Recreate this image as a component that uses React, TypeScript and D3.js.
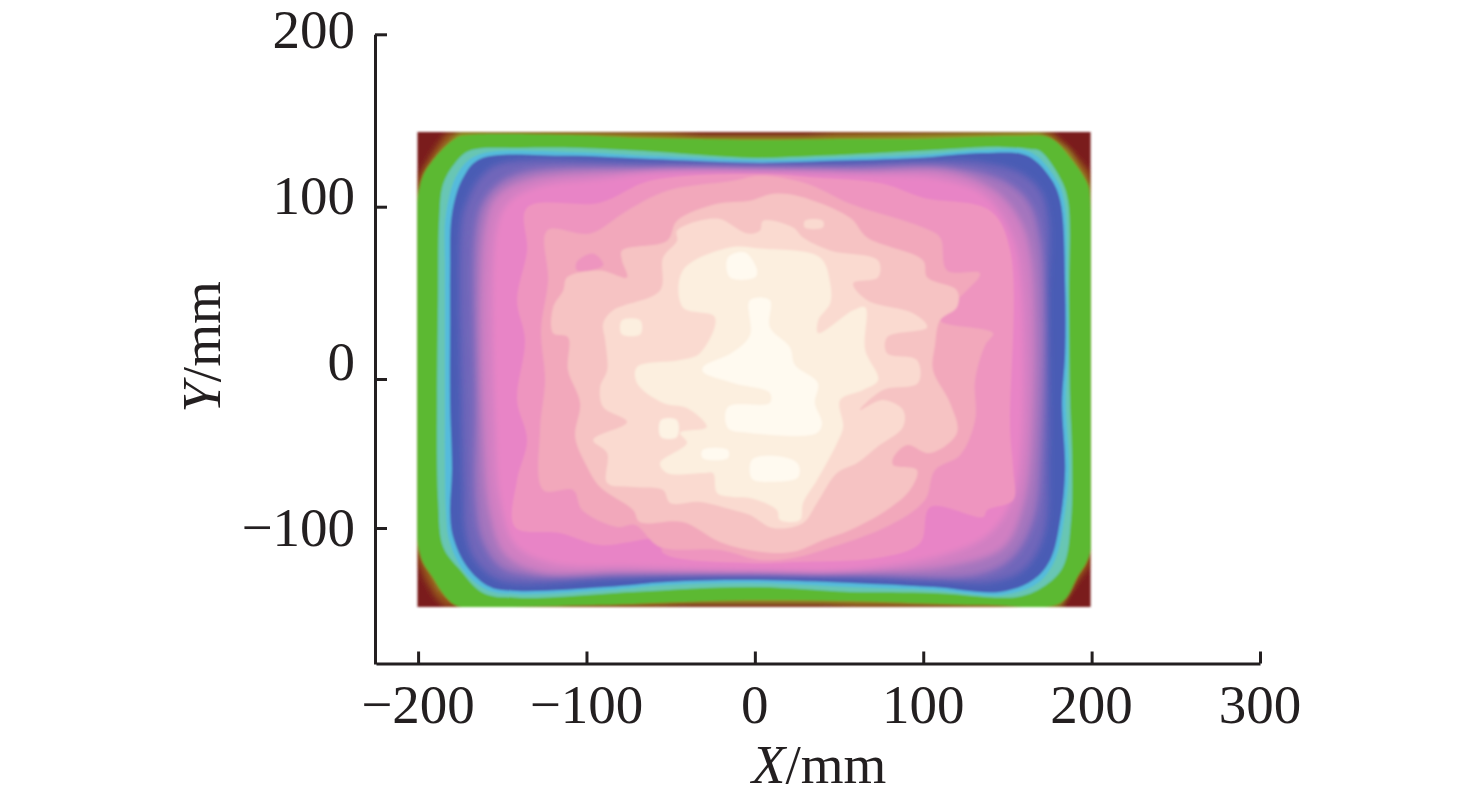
import * as d3 from "d3";
import { useEffect, useRef } from "react";

type Pt = [number, number];

const xTicks = [-200, -100, 0, 100, 200, 300];
const yTicks = [200, 100, 0, -100];

// extent of the measured field (mm)
const fieldX = [-200.5, 199.5];
const fieldY = [143.4, -153];

// iso-level outlines, outermost first (x mm, y mm)
const levelBrown: Pt[] = [[-200.5,116.2],[-194.5,126.6],[-189,135.3],[-183,143.4],[-50,143.4],[-30,141],[30,141],[50,143.4],[176.5,143.4],[185.4,134.7],[192,127.7],[199.4,119.6],[199.4,-124.8],[192,-134.9],[186,-144.9],[180,-153],[60,-153],[40,-150.5],[-40,-150.5],[-60,-153],[-183.9,-153],[-189.9,-146.3],[-195.8,-134.9],[-200.5,-121.4]];
const levelOlive: Pt[] = [[-200.5,105],[-194.5,120.8],[-186,132.4],[-175.6,143.4],[-92,142],[-32.6,139.9],[26.8,139.9],[86.4,141],[169.5,143.4],[186,132.4],[199.4,111],[199.4,-111.3],[181.4,-153],[74.3,-150],[-62.2,-150],[-169,-153],[-187,-141.6],[-200.5,-111.3]];
const levelGreen: Pt[] = [[-199.2,111],[-191.5,126.6],[-177.3,139.9],[-169.5,141.6],[-110,141.6],[-68.3,139.9],[-32.6,139.3],[0,138.7],[56.6,139.3],[96.4,139.3],[155.9,141],[175.5,139.9],[187.4,128.3],[197.5,113.3],[199.2,103.5],[199.2,-116],[191.5,-132.9],[181.4,-150.3],[135.6,-151.6],[56.6,-149],[0,-148.3],[-42.8,-149.6],[-92.2,-151.6],[-163.5,-153],[-178.4,-151.6],[-191.5,-132.9],[-199.2,-116]];
const levelTeal: Pt[] = [[-169.5,132.4],[-139.7,134.1],[-104,134.1],[-68.3,132.4],[-32.6,130],[0,128.3],[38.7,129.5],[74.3,131.2],[115.9,133.5],[145.6,134.7],[163.4,133.5],[169.3,132.4],[181.2,116.8],[186,103.5],[186.6,45.7],[187.2,-14.1],[188.3,-47.6],[187.8,-94.6],[183,-126.1],[171.1,-139.6],[155.7,-146.3],[105.8,-143.6],[56.6,-142.9],[-2.9,-139.6],[-72.3,-142.9],[-141.2,-146.9],[-161.4,-143.6],[-175,-128.2],[-185.1,-112.7],[-188.1,-81.2],[-188.7,-14.1],[-188.1,45.7],[-187.5,91.9],[-185.1,113.3],[-178,125.4]];
const levelCyan: Pt[] = [[-183.4,95.9],[-176.3,119.6],[-164.4,130],[-111.5,131.8],[-62.2,129.5],[3,127.2],[46.5,128.3],[96.4,130],[135.6,132.9],[163.5,131.8],[178.4,116.8],[183.7,103.5],[185.3,53.2],[185.9,15],[184.7,-16.1],[186.5,-61.1],[183.5,-94.6],[178.2,-121.4],[168.1,-136.9],[147.3,-144.9],[105.8,-141.6],[56.6,-139.6],[-2.9,-136.9],[-52.1,-138.2],[-87.7,-141.6],[-141.2,-144.3],[-159,-141.6],[-173.2,-128.2],[-181.5,-108],[-183.4,-89.9],[-184,-61.1],[-184,-16.1],[-184,34.1],[-184,63]];
const levelBlue: Pt[] = [[-179.9,95.9],[-173.3,116.8],[-163.2,127.7],[-111.5,129.5],[-62.2,127.7],[3,125.4],[46.5,126.6],[96.4,128.3],[135.6,131.2],[161.8,129.5],[175.4,116.8],[181.4,103.5],[184.3,53.2],[184.3,15],[182.5,-16.1],[184.3,-61.1],[181.4,-94.6],[175.4,-121.4],[165.2,-134.9],[145.6,-142.9],[105.8,-139.6],[56.6,-136.9],[-2.9,-134.9],[-52.1,-136.2],[-87.7,-139.6],[-141.2,-142.3],[-157.2,-139.6],[-170.9,-126.1],[-179.2,-106],[-181,-89.9],[-179.9,-61.1],[-181,-16.1],[-181,34.1],[-181,63]];
const levelIndigo: Pt[] = [[-174,91.9],[-170,105.2],[-163.2,116.8],[-151.3,124.8],[-62.2,125.4],[3,123.7],[56.6,124.3],[115.9,126.6],[135.6,125.4],[157.6,119.6],[169.5,109.2],[174.3,91.9],[173.7,45.7],[174.3,-47.6],[171.3,-106],[159.4,-128.2],[139.8,-136.2],[105.8,-134.9],[56.6,-132.9],[-2.9,-131.5],[-84.2,-133.5],[-141.2,-136.9],[-155.4,-132.9],[-167.3,-119.4],[-172,-101.3],[-173,-72.5],[-174,-16.1]];
const levelViolet: Pt[] = [[-166,86.1],[-161,103.5],[-150,115],[-133.5,121],[-62.2,122.8],[3,122.8],[56.6,122.8],[115.9,122.8],[145.6,116],[162,103.5],[169.5,80.3],[169.9,-47.6],[165.4,-94.6],[153,-120],[133.7,-131],[56.6,-131],[-2.9,-130],[-80.1,-131],[-133.6,-132],[-151.4,-126],[-162,-108],[-166,-81.2],[-166,-16.1]];
const levelOrchid: Pt[] = [[-160.2,89],[-153,106.4],[-133.5,116.2],[-62.2,120.8],[3,120.8],[62.4,120.2],[115.9,120.2],[142.7,109.2],[157.6,91.9],[164.2,68.8],[164.2,-47.6],[158.8,-87.9],[147.5,-113.3],[115.9,-125.5],[56.6,-129.5],[-2.9,-129.5],[-80.1,-129.5],[-127.6,-129.5],[-148.4,-118],[-157.3,-91.3],[-161.4,-34.2]];
const levelPink: Pt[] = [[-153.1,89],[-145.3,103.5],[-127.5,112.1],[-91.9,116.2],[-62.2,119.6],[3,120.2],[62.4,118.5],[110,116.2],[136.8,106.4],[152.9,83.2],[158.3,57.2],[158.3,-47.6],[152.9,-81.2],[138.5,-104.7],[112.9,-118],[56.6,-128.2],[-2.9,-128.2],[-68.3,-126.1],[-121.8,-123.5],[-142.5,-111.3],[-151.4,-81.2],[-154.4,-34.2]];
const levelRose1: Pt[] = [[-135.3,99.4],[-91.9,102.3],[-62.2,115],[3,119],[36.9,116.8],[76.1,113.3],[99.9,105.2],[139.7,97.7],[151.6,74.6],[151.6,-34.2],[153.4,-61.1],[153.4,-81.2],[138,-87.9],[135.6,-92.6],[104.2,-85.9],[98.2,-110],[76.3,-119.4],[22.7,-122.8],[-2.9,-123.5],[-54.5,-116.8],[-56.3,-108],[-91.9,-111.4],[-115.7,-103.3],[-142.5,-99.3],[-141.2,-67.7],[-135.3,-40.9],[-141.2,-14.1],[-136.5,22.5],[-141.2,45.7],[-135.3,74.6]];
const levelRose2: Pt[] = [[-123.4,86.1],[-97.9,84.4],[-75.9,97.7],[-52.1,109.2],[-12.9,115],[3,117.9],[31,113.3],[56.6,101.7],[99.9,87.9],[110,82.1],[114.1,63],[133.7,61.3],[120,45.7],[110,34.1],[141.5,26.6],[136.8,19.7],[130.8,-0.7],[130.8,-27.5],[121.9,-51],[107,-61.1],[101,-81.2],[80.3,-98],[40.6,-114.7],[22.7,-120.1],[3,-121.4],[-20.7,-114.7],[-56.3,-112.7],[-71.1,-98],[-81.8,-99.3],[-102.6,-87.9],[-107.9,-74.5],[-125.7,-74.5],[-127.6,-34.2],[-124.6,-0.7],[-127,28.3],[-122.8,57.2]];
const spotRose1: Pt[] = [[-105.7,68],[-96,72.8],[-90,66],[-105.7,63]];
const levelBlush: Pt[] = [[-119.8,41.6],[-113.8,51.4],[-111.5,59],[-91.9,63],[-75.9,59],[-78.9,68.8],[-78.9,74.6],[-52.1,80.3],[-46.2,91.9],[-22.4,101.7],[-2.9,103.5],[10.8,107.5],[25,106.4],[56.6,93.6],[66.7,82.1],[99.9,68.8],[102.3,59],[120,51.4],[120,41.6],[110,34.1],[107,19.7],[105.8,5.2],[115.9,-16.1],[120,-36.2],[104,-49.7],[90.4,-44.3],[82.1,-53],[82.1,-57.7],[96.3,-61.1],[92.1,-74.5],[78.4,-87.9],[56.6,-101.3],[40.6,-108],[22.7,-116],[3,-116],[-20.7,-109.4],[-42.8,-96],[-68.3,-96],[-72.3,-87.9],[-91.9,-72.5],[-99.6,-59],[-106.7,-38.9],[-103.8,-16.1],[-111,5.2],[-111,24.3],[-119.8,26.6]];
const levelPeach: Pt[] = [[-90.1,32.4],[-84.2,39.9],[-56.3,51.4],[-54.5,70.5],[-46.2,80.3],[-46.2,86.1],[-22.4,93.1],[-4.6,84.4],[3,86.1],[4.9,91.9],[22.7,87.9],[28.6,82.1],[44.7,74.6],[73.2,68.8],[73.2,59],[58.4,55.5],[66.7,45.7],[94,38.1],[102.3,30.1],[78.5,24.3],[78.5,15],[96.3,11],[96.9,-2.7],[76.1,-7.4],[62.4,-20.8],[76.1,-14.1],[88,-20.8],[88,-32.2],[72.6,-45.6],[60.7,-56.4],[48.8,-63.1],[36.9,-83.2],[28.6,-96.6],[10.8,-100],[-2.9,-91.3],[-12.9,-87.9],[-32.5,-82.5],[-50.3,-83.2],[-54.5,-74.5],[-72.3,-72.5],[-87.7,-69.8],[-87.7,-49.7],[-96,-40.9],[-75.9,-28.9],[-90.1,-18.8],[-91.9,-5.4],[-87.7,5.2],[-88.9,22.5]];
const spotPeach: Pt[] = [[29.7,91.9],[40.4,91.9],[40.4,87.9],[29.7,87.9]];
const levelCream: Pt[] = [[-42.8,63],[-14.9,76.3],[3,75.7],[38.7,70.5],[44.7,55.5],[44.7,43.9],[37.6,34.1],[37.6,26.6],[58.4,39.9],[65.5,41.6],[65.5,16.8],[73.2,-0.7],[64.3,-7.4],[50.6,-14.1],[52.4,-32.2],[48.8,-42.9],[36.9,-67.8],[28.6,-83.2],[26.8,-94.6],[14.9,-94.6],[13.1,-87.9],[-2.9,-79.8],[-12.9,-79.2],[-22.4,-76.5],[-24.8,-63.1],[-30.7,-63.1],[-52.1,-63.1],[-56.3,-56.4],[-40.3,-42.9],[-44.4,-36.2],[-28.6,-32.2],[-40.3,-19.5],[-54.5,-16.1],[-70,-2.7],[-70,6.9],[-44.4,11],[-32.6,15],[-23.7,35.8],[-42.8,41.6]];
const spotCream: Pt[] = [[-79,34],[-68,34],[-68,26],[-79,26]];
const levelIvory: Pt[] = [[-30.7,6.9],[-12.9,15.6],[-2.9,25.4],[-2.9,45.7],[8.9,45.7],[8.9,30.1],[20.8,18.5],[23.8,8.1],[37.4,-2.7],[35.6,-16.1],[39.8,-29.5],[36.9,-36.2],[-2.9,-36.2],[-16,-32.9],[-16,-18.8],[8.9,-16.1],[8.9,-9.4],[-12.9,-2.7],[-30.7,4]];
const spotIvoryA: Pt[] = [[-16,70.5],[-5.8,73.4],[1.3,63],[0.1,59],[-14.8,59]];
const spotIvoryB: Pt[] = [[-1.7,-54.3],[15,-52],[25.6,-57],[25.6,-66],[10,-69],[-1.7,-67]];
const spotIvoryC: Pt[] = [[-31,-47.6],[-16,-47.6],[-16,-53],[-31,-53]];
const spotIvoryD: Pt[] = [[-55.8,-27.5],[-46.3,-27.5],[-46.3,-38.9],[-55.8,-38.9]];

const App = () => {
  const ref = useRef<SVGSVGElement>(null);

  useEffect(() => {
    const svg = d3.select(ref.current);
    svg.selectAll("*").remove();

    const ink = "#231f20";
    const serif = "'Liberation Serif', serif";

    const x = d3.scaleLinear().domain([-225, 300]).range([376, 1260]);
    // the printed y ticks are not evenly spaced
    const y = d3.scaleLinear().domain([200, 100, 0, -100, -191.3]).range([34.3, 206.7, 379, 528, 664]);
    const yLabel = d3.scaleLinear().domain([200, -100]).range([48, 546]);

    const defs = svg.append("defs");
    const blur = (id: string, dev: number) =>
      defs.append("filter").attr("id", id)
        .attr("filterUnits", "userSpaceOnUse")
        .attr("x", 390).attr("y", 100).attr("width", 730).attr("height", 540)
        .append("feGaussianBlur").attr("stdDeviation", dev);
    blur("soft", 1.3);
    blur("fade", 3);
    defs.append("clipPath").attr("id", "field")
      .append("rect")
      .attr("x", x(fieldX[0])).attr("y", y(fieldY[0]))
      .attr("width", x(fieldX[1]) - x(fieldX[0]))
      .attr("height", y(fieldY[1]) - y(fieldY[0]));

    const lin = d3.line<Pt>().x((d) => x(d[0])).y((d) => y(d[1])).curve(d3.curveLinearClosed);
    const smooth = d3.line<Pt>().x((d) => x(d[0])).y((d) => y(d[1])).curve(d3.curveCatmullRomClosed.alpha(0.5));

    const layers: [Pt[], string, typeof lin, boolean][] = [
      [levelBrown, "#95521f", lin, true],
      [levelOlive, "#8fa62c", lin, true],
      [levelGreen, "#5cb932", smooth, false],
      [levelTeal, "#68c6b4", smooth, false],
      [levelCyan, "#55bbdc", smooth, false],
      [levelBlue, "#4a5cb5", smooth, false],
      [levelIndigo, "#6f66ba", smooth, true],
      [levelViolet, "#a474be", smooth, true],
      [levelOrchid, "#d07fc2", smooth, true],
      [levelPink, "#e884c6", smooth, true],
      [levelRose1, "#ee95bf", smooth, false],
      [levelRose2, "#f2a8bb", smooth, false],
      [spotRose1, "#ee95bf", smooth, false],
      [levelBlush, "#f6c3c3", smooth, false],
      [levelPeach, "#fadad0", smooth, false],
      [spotPeach, "#fadad0", smooth, false],
      [levelCream, "#fcefdf", smooth, false],
      [spotCream, "#fcefdf", smooth, false],
      [levelIvory, "#fffaf0", smooth, false],
      [spotIvoryA, "#fffaf0", smooth, false],
      [spotIvoryB, "#fffaf0", smooth, false],
      [spotIvoryC, "#fffaf0", smooth, false],
      [spotIvoryD, "#fdf3e4", smooth, false],
    ];

    const map = svg.append("g").attr("filter", "url(#soft)").append("g").attr("clip-path", "url(#field)");
    map.append("rect")
      .attr("x", x(fieldX[0])).attr("y", y(fieldY[0]))
      .attr("width", x(fieldX[1]) - x(fieldX[0]))
      .attr("height", y(fieldY[1]) - y(fieldY[0]))
      .attr("fill", "#7a1b1f");
    map.selectAll("path.level")
      .data(layers)
      .join("path")
      .attr("class", "level")
      .attr("d", (d) => d[2](d[0]))
      .attr("fill", (d) => d[1])
      .attr("filter", (d) => (d[3] ? "url(#fade)" : null));

    // axes, ticks point inward
    const xAxis = svg.append("g").attr("transform", "translate(0,663.5)")
      .call(d3.axisBottom(x).tickValues(xTicks).tickSize(-12).tickSizeOuter(0).tickFormat(() => ""));
    const yAxis = svg.append("g").attr("transform", "translate(375,0)")
      .call(d3.axisLeft(y).tickValues(yTicks).tickSize(-12).tickSizeOuter(0).tickFormat(() => ""));
    [xAxis, yAxis].forEach((a) => {
      a.selectAll("path,line").attr("stroke", ink).attr("stroke-width", 3);
    });

    const fmt = (v: number) => (v < 0 ? "\u2212" + Math.abs(v) : String(v));
    svg.append("g").selectAll("text").data(xTicks).join("text")
      .attr("x", (d) => x(d)).attr("y", 723)
      .attr("text-anchor", "middle")
      .attr("font-family", serif).attr("font-size", 55).attr("fill", ink)
      .text(fmt);
    svg.append("g").selectAll("text").data(yTicks).join("text")
      .attr("x", 355).attr("y", (d) => yLabel(d))
      .attr("text-anchor", "end")
      .attr("font-family", serif).attr("font-size", 55).attr("fill", ink)
      .text(fmt);

    const xt = svg.append("text").attr("x", 819).attr("y", 783).attr("text-anchor", "middle")
      .attr("font-family", serif).attr("font-size", 55).attr("fill", ink);
    xt.append("tspan").attr("font-style", "italic").text("X");
    xt.append("tspan").text("/mm");

    const yt = svg.append("text").attr("transform", "translate(220,347) rotate(-90)").attr("text-anchor", "middle")
      .attr("font-family", serif).attr("font-size", 55).attr("fill", ink);
    yt.append("tspan").attr("font-style", "italic").text("Y");
    yt.append("tspan").text("/mm");
  }, []);

  return <svg ref={ref} width={1476} height={803} style={{ position: "absolute", left: 0, top: 0, background: "#fff" }} />;
};

export default App;
